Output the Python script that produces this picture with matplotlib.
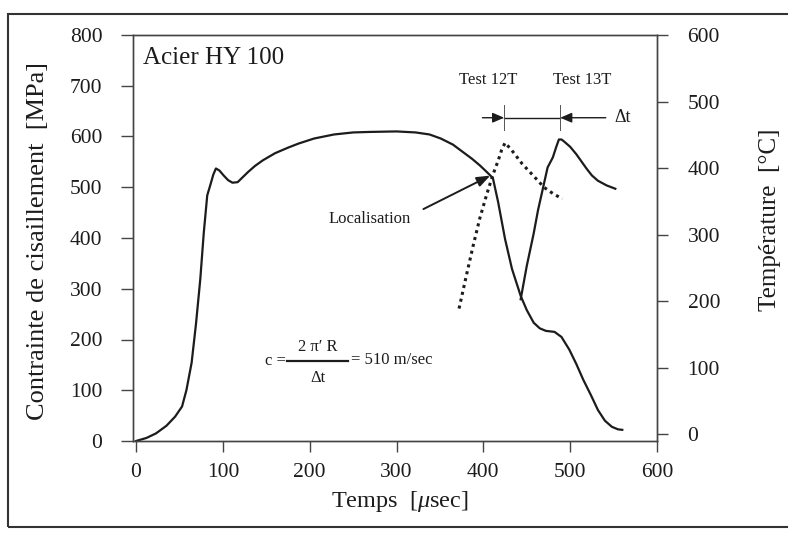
import matplotlib
matplotlib.use("Agg")
import matplotlib.pyplot as plt
from matplotlib.patches import Rectangle

plt.rcParams["font.family"] = ["Liberation Serif", "DejaVu Serif"]
plt.rcParams["mathtext.fontset"] = "custom"
plt.rcParams["mathtext.rm"] = "Liberation Serif"
plt.rcParams["mathtext.it"] = "Liberation Serif:italic"

# shear stress (left axis), MPa vs time in microseconds
time_stress = [0, 12, 23, 35, 45, 53, 58, 64, 69, 74, 78, 82, 86, 89, 92, 96,
               101, 106, 111, 117, 123, 129, 137, 146, 160, 175, 187, 205, 228,
               250, 269, 300, 322, 338, 351, 365, 376, 387, 396, 404, 411, 417,
               425, 433, 443, 450, 458, 465, 472, 482, 490, 499, 507, 515, 524,
               532, 540, 548, 555, 560]
stress = [0, 6, 15, 30, 48, 68, 100, 154, 230, 319, 410, 484, 507, 525, 537,
          533, 523, 514, 509, 510, 520, 530, 542, 553, 567, 578, 586, 596, 604,
          608, 609, 610, 608, 604, 596, 584, 570, 556, 543, 530, 518, 471,
          398, 339, 286, 258, 233, 222, 217, 215, 205, 180, 152, 121, 90,
          61, 40, 28, 23, 22]

# temperature, test 12T (dotted) and test 13T (solid), right axis in degC
time_12t = [372, 380, 388, 396, 404, 411, 417, 421, 425, 432, 445, 458, 470,
            481, 491]
temp_12t = [189, 236, 282, 325, 361, 390, 411, 427, 438, 428, 406, 388, 371,
            361, 354]
time_13t = [443, 450, 458, 463, 468, 474, 480, 484, 487, 490, 493, 500, 507,
            513, 519, 525, 532, 542, 552]
temp_13t = [203, 253, 302, 337, 366, 401, 416, 432, 443, 443, 440, 432, 421,
            410, 399, 389, 381, 374, 369]

x_ticks = [0, 100, 200, 300, 400, 500, 600]
stress_ticks = [0, 100, 200, 300, 400, 500, 600, 700, 800]
temp_ticks = [0, 100, 200, 300, 400, 500, 600]

ink = "#1c1c1c"

fig = plt.figure(figsize=(7.88, 5.34), dpi=100)
ax = fig.add_axes([133 / 788, 93 / 534, 524 / 788, 406 / 534])
ax2 = ax.twinx()

ax.plot(time_stress, stress, color=ink, lw=1.6)
ax2.plot(time_12t, temp_12t, color=ink, lw=2.2, linestyle=(0, (1, 1.3)))
ax2.plot(time_13t, temp_13t, color=ink, lw=1.6)

ax.set_xlim(-3.5, 600)
ax.set_ylim(0, 800)
ax2.set_ylim(-10, 600)
ax.set_xticks(x_ticks)
ax.set_yticks(stress_ticks)
ax2.set_yticks(temp_ticks)

for a in (ax, ax2):
    for spine in a.spines.values():
        spine.set_color("#444")
        spine.set_linewidth(1.0)
ax.tick_params(axis="y", direction="out", length=9, width=1, color="#444",
               pad=13, labelsize=15.5, labelcolor=ink)
ax.tick_params(axis="x", direction="out", length=8, width=1, color="#444",
               pad=8, labelsize=15.5, labelcolor=ink)
ax2.tick_params(axis="y", direction="out", length=8, width=1, color="#444",
                pad=14, labelsize=15.5, labelcolor=ink)

fig.text(38 / 788, 1 - 241 / 534, "Contrainte de cisaillement  [MPa]",
         rotation=90, ha="center", va="center", fontsize=19, color=ink)
fig.text(770 / 788, 1 - 220 / 534, "Température  [°C]",
         rotation=90, ha="center", va="center", fontsize=18, color=ink)
fig.text(400 / 788, 1 - 502 / 534, r"Temps  [$\mathit{\mu}$sec]",
         ha="center", va="center", fontsize=17.5, color=ink)

# annotations (left-axis data coordinates)
ax.text(8, 754, "Acier HY 100", ha="left", va="center", fontsize=18, color=ink)
ax.text(405, 711, "Test 12T", ha="center", va="center", fontsize=12, color=ink)
ax.text(514, 711, "Test 13T", ha="center", va="center", fontsize=12, color=ink)

ax.plot([424, 488.5], [637, 637], color=ink, lw=1.0)
ax.plot([424, 424], [662, 612], color="#555", lw=0.7)
ax.plot([488.5, 488.5], [662, 612], color="#555", lw=0.7)
arrow_kw = dict(arrowstyle="-|>,head_length=0.7,head_width=0.3", color=ink,
                lw=1.0, shrinkA=0, shrinkB=0)
ax.annotate("", xy=(424, 637), xytext=(399, 637), arrowprops=arrow_kw)
ax.annotate("", xy=(488.5, 637), xytext=(541, 637), arrowprops=arrow_kw)
ax.text(551, 637, "Δt", ha="left", va="center", fontsize=13, color=ink)

ax.annotate("", xy=(408, 523), xytext=(331, 457),
            arrowprops=dict(arrowstyle="-|>,head_length=0.8,head_width=0.3",
                            color=ink, lw=1.4, shrinkA=0, shrinkB=0))
ax.text(269, 438, "Localisation", ha="center", va="center", fontsize=12,
        color=ink)

# c = 2 pi R / delta t
ax.text(172.5, 158, "c =", ha="right", va="center", fontsize=12, color=ink)
ax.plot([174, 244], [158, 158], color=ink, lw=1.6)
ax.text(209, 185, "2 π′ R", ha="center", va="center", fontsize=12, color=ink)
ax.text(209, 124, "Δt", ha="center", va="center", fontsize=12, color=ink)
ax.text(248, 160, "= 510 m/sec", ha="left", va="center", fontsize=12, color=ink)

# outer frame of the scanned figure
fig.patches.append(Rectangle((8 / 788, 7 / 534), 1.2, 513 / 534, fill=False,
                             lw=1.5, ec="#333", transform=fig.transFigure))

fig.savefig("out.png", dpi=100, facecolor="white")
